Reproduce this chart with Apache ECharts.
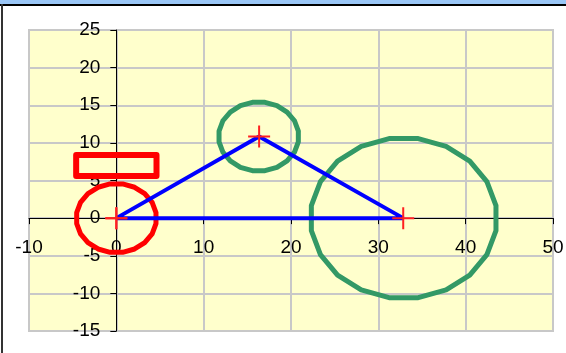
<!DOCTYPE html>
<html>
<head>
<meta charset="utf-8">
<script src="https://cdn.jsdelivr.net/npm/echarts@6/dist/echarts.min.js"></script>
<style>
  html, body { margin: 0; padding: 0; background: #fff; }
  #chart { width: 566px; height: 353px; }
</style>
</head>
<body>
<div id="chart"></div>
<script>
// axis ranges and ticks
const xTicks = [-10, 0, 10, 20, 30, 40, 50];
const yTicks = [-15, -10, -5, 0, 5, 10, 15, 20, 25];

// triangle (blue, with + markers)
const triangle = [[0, 0], [16.35, 10.85], [32.85, 0], [0, 0]];

// red rectangle
const redRect = [[-4.6, 5.6], [4.6, 5.6], [4.6, 8.4], [-4.6, 8.4], [-4.6, 5.6]];

// red circle round (0,0)
const redCircle = [
  [4.54, 0.72], [4.10, 2.09], [3.25, 3.25], [2.09, 4.10], [0.72, 4.54],
  [-0.72, 4.54], [-2.09, 4.10], [-3.25, 3.25], [-4.10, 2.09], [-4.54, 0.72],
  [-4.54, -0.72], [-4.10, -2.09], [-3.25, -3.25], [-2.09, -4.10], [-0.72, -4.54],
  [0.72, -4.54], [2.09, -4.10], [3.25, -3.25], [4.10, -2.09], [4.54, -0.72],
  [4.54, 0.72]
];

// small green circle round the top vertex
const smallGreen = [
  [20.84, 11.57], [20.40, 12.94], [19.55, 14.10], [18.39, 14.95], [17.02, 15.39],
  [15.58, 15.39], [14.21, 14.95], [13.05, 14.10], [12.20, 12.94], [11.76, 11.57],
  [11.76, 10.13], [12.20, 8.76], [13.05, 7.60], [14.21, 6.75], [15.58, 6.31],
  [17.02, 6.31], [18.39, 6.75], [19.55, 7.60], [20.40, 8.76], [20.84, 10.13],
  [20.84, 11.57]
];

// big green circle round the right vertex
const bigGreen = [
  [43.47, 1.67], [42.43, 4.86], [40.47, 7.57], [37.76, 9.53], [34.57, 10.57],
  [31.23, 10.57], [28.04, 9.53], [25.33, 7.57], [23.37, 4.86], [22.33, 1.67],
  [22.33, -1.67], [23.37, -4.86], [25.33, -7.57], [28.04, -9.53], [31.23, -10.57],
  [34.57, -10.57], [37.76, -9.53], [40.47, -7.57], [42.43, -4.86], [43.47, -1.67],
  [43.47, 1.67]
];

const chart = echarts.init(document.getElementById('chart'));

const gridW = 524, gridH = 301;
const xMin = xTicks[0], xMax = xTicks[xTicks.length - 1];
const yMin = yTicks[0], yMax = yTicks[yTicks.length - 1];
// move the axes in to cross at zero (Excel style)
const xAxisShift = -gridH * (0 - yMin) / (yMax - yMin);
const yAxisShift = -gridW * (0 - xMin) / (xMax - xMin);

const labelFont = {
  color: '#000',
  fontSize: 19,
  fontFamily: '"Liberation Sans", Arial, sans-serif'
};

function shape(data, color, width) {
  return {
    type: 'line',
    data: data,
    showSymbol: false,
    symbol: 'none',
    smooth: false,
    silent: true,
    lineStyle: { color: color, width: width, join: 'round', cap: 'round' }
  };
}

const option = {
  animation: false,
  backgroundColor: '#fff',
  graphic: [
    { type: 'rect', shape: { x: 0, y: 0, width: 566, height: 4 }, style: { fill: '#9ac6f6' }, z: 100 },
    { type: 'rect', shape: { x: 0, y: 4, width: 566, height: 2 }, style: { fill: '#000' }, z: 100 },
    { type: 'rect', shape: { x: 1, y: 4, width: 2, height: 349 }, style: { fill: '#333' }, z: 100 }
  ],
  grid: {
    left: 29, top: 30, width: gridW, height: gridH,
    show: true,
    backgroundColor: '#ffffcc',
    borderColor: '#c8c8c8',
    borderWidth: 2,
    containLabel: false,
    outerBoundsMode: 'none'
  },
  xAxis: {
    type: 'value',
    position: 'bottom',
    offset: xAxisShift,
    min: xMin,
    max: xMax,
    interval: 10,
    axisLine: { onZero: false, lineStyle: { color: '#000', width: 1 } },
    axisTick: { show: true, length: 6, lineStyle: { color: '#000' } },
    axisLabel: Object.assign({ margin: 20, showMinLabel: true, showMaxLabel: true, hideOverlap: false }, labelFont),
    splitLine: { show: true, lineStyle: { color: '#c8c8c8', width: 2 } }
  },
  yAxis: {
    type: 'value',
    position: 'left',
    offset: yAxisShift,
    min: yMin,
    max: yMax,
    interval: 5,
    axisLine: { onZero: false, lineStyle: { color: '#000', width: 1 } },
    axisTick: { show: true, length: 6, lineStyle: { color: '#000' } },
    axisLabel: Object.assign({ margin: 16, showMinLabel: true, showMaxLabel: true, hideOverlap: false }, labelFont),
    splitLine: { show: true, lineStyle: { color: '#c8c8c8', width: 2 } }
  },
  series: [
    shape(bigGreen, '#339966', 5),
    shape(smallGreen, '#339966', 5),
    shape(redCircle, '#ff0000', 5),
    shape(redRect, '#ff0000', 6),
    {
      type: 'line',
      data: triangle,
      smooth: false,
      silent: true,
      lineStyle: { color: '#0000ff', width: 4 },
      showSymbol: true,
      symbol: 'path://M10,0h2v10h10v2h-10v10h-2v-10h-10v-2h10z',
      symbolSize: [22, 22],
      itemStyle: { color: '#ff2020', borderWidth: 0 }
    }
  ]
};

chart.setOption(option);
</script>
</body>
</html>
